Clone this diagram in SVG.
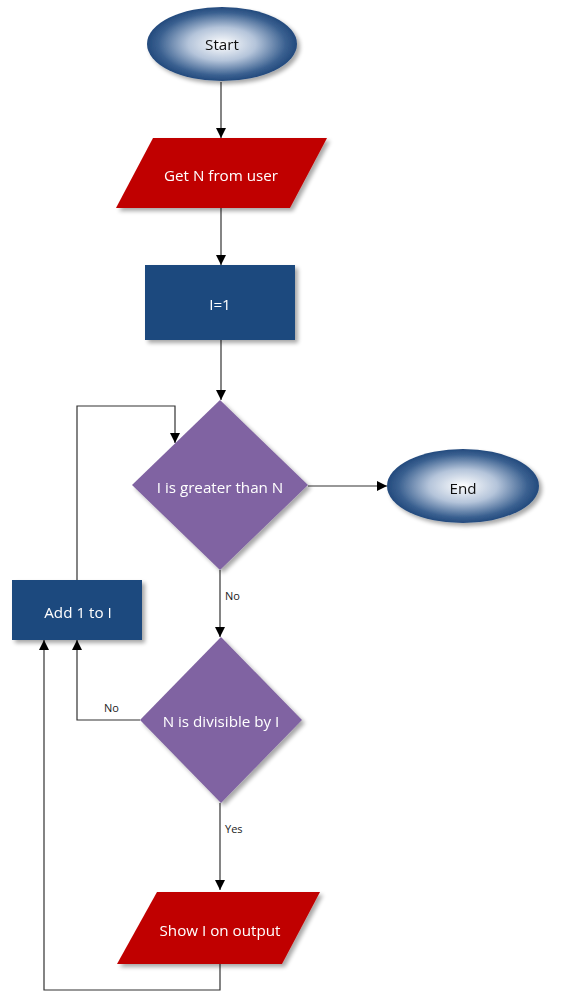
<svg xmlns="http://www.w3.org/2000/svg" width="585" height="996" viewBox="0 0 585 996">
<style>
.lbl{font-family:"Open Sans","Liberation Sans",sans-serif;font-size:15.2px;fill:#ffffff;text-anchor:middle;dominant-baseline:central}
.dark{fill:#111111}
.edge{font-family:"Open Sans","Liberation Sans",sans-serif;font-size:11px;fill:#222222}
.conn{fill:none;stroke:#333333;stroke-width:1.2}
.red{fill:#C00000}
.blue{fill:#1F4A7E}
.purple{fill:#8064A2}
.oval{fill:url(#og)}
.sh{filter:url(#shadow)}
</style>
<defs>
<radialGradient id="og" cx="50%" cy="50%" r="50%">
<stop offset="0" stop-color="#ffffff"/>
<stop offset="0.45" stop-color="#b4c4da"/>
<stop offset="0.85" stop-color="#3a6090"/>
<stop offset="1" stop-color="#234a7d"/>
</radialGradient>
<filter id="shadow" x="-20%" y="-20%" width="150%" height="150%">
<feGaussianBlur in="SourceAlpha" stdDeviation="2"/>
<feOffset dx="3" dy="3" result="b"/>
<feComponentTransfer><feFuncA type="linear" slope="0.35"/></feComponentTransfer>
<feMerge><feMergeNode/><feMergeNode in="SourceGraphic"/></feMerge>
</filter>
<marker id="arr" markerWidth="10" markerHeight="10" refX="10" refY="5" orient="auto" markerUnits="userSpaceOnUse">
<path d="M0,0 L10,5 L0,10 Z" fill="#000000"/>
</marker>
</defs>
<rect width="585" height="996" fill="#ffffff"/>
<g id="connectors">
<path class="conn" d="M221,82 V138" marker-end="url(#arr)"/>
<path class="conn" d="M221,208 V265" marker-end="url(#arr)"/>
<path class="conn" d="M221,340 V400" marker-end="url(#arr)"/>
<path class="conn" d="M308,486 H387" marker-end="url(#arr)"/>
<path class="conn" d="M220,570 V637" marker-end="url(#arr)"/>
<text class="edge" x="225" y="600">No</text>
<path class="conn" d="M77,580 V406 H175 V443" marker-end="url(#arr)"/>
<path class="conn" d="M140,720 H77 V640" marker-end="url(#arr)"/>
<text class="edge" x="104" y="712">No</text>
<path class="conn" d="M220,803 V890" marker-end="url(#arr)"/>
<text class="edge" x="225" y="833">Yes</text>
<path class="conn" d="M220,964 V990 H44 V640" marker-end="url(#arr)"/>
</g>
<g id="start" class="sh">
<ellipse class="oval" cx="222" cy="44" rx="75" ry="37"/>
<text class="lbl dark" x="222" y="44">Start</text>
</g>
<g id="getN" class="sh">
<polygon class="red" points="153,138 327,138 290,208 116,208"/>
<text class="lbl" x="221" y="175">Get N from user</text>
</g>
<g id="init" class="sh">
<rect class="blue" x="145" y="265" width="150" height="75"/>
<text class="lbl" x="220" y="304">I=1</text>
</g>
<g id="cond1" class="sh">
<polygon class="purple" points="220,400 308,485 220,570 132,485"/>
<text class="lbl" x="220" y="487">I is greater than N</text>
</g>
<g id="end" class="sh">
<ellipse class="oval" cx="463" cy="486" rx="76" ry="37"/>
<text class="lbl dark" x="463" y="488">End</text>
</g>
<g id="add" class="sh">
<rect class="blue" x="12" y="580" width="130" height="60"/>
<text class="lbl" x="78" y="612">Add 1 to I</text>
</g>
<g id="cond2" class="sh">
<polygon class="purple" points="221,637 302,720 221,803 140,720"/>
<text class="lbl" x="221" y="721">N is divisible by I</text>
</g>
<g id="show" class="sh">
<polygon class="red" points="157,892 320,892 282,964 117,964"/>
<text class="lbl" x="220" y="930">Show I on output</text>
</g>
</svg>
